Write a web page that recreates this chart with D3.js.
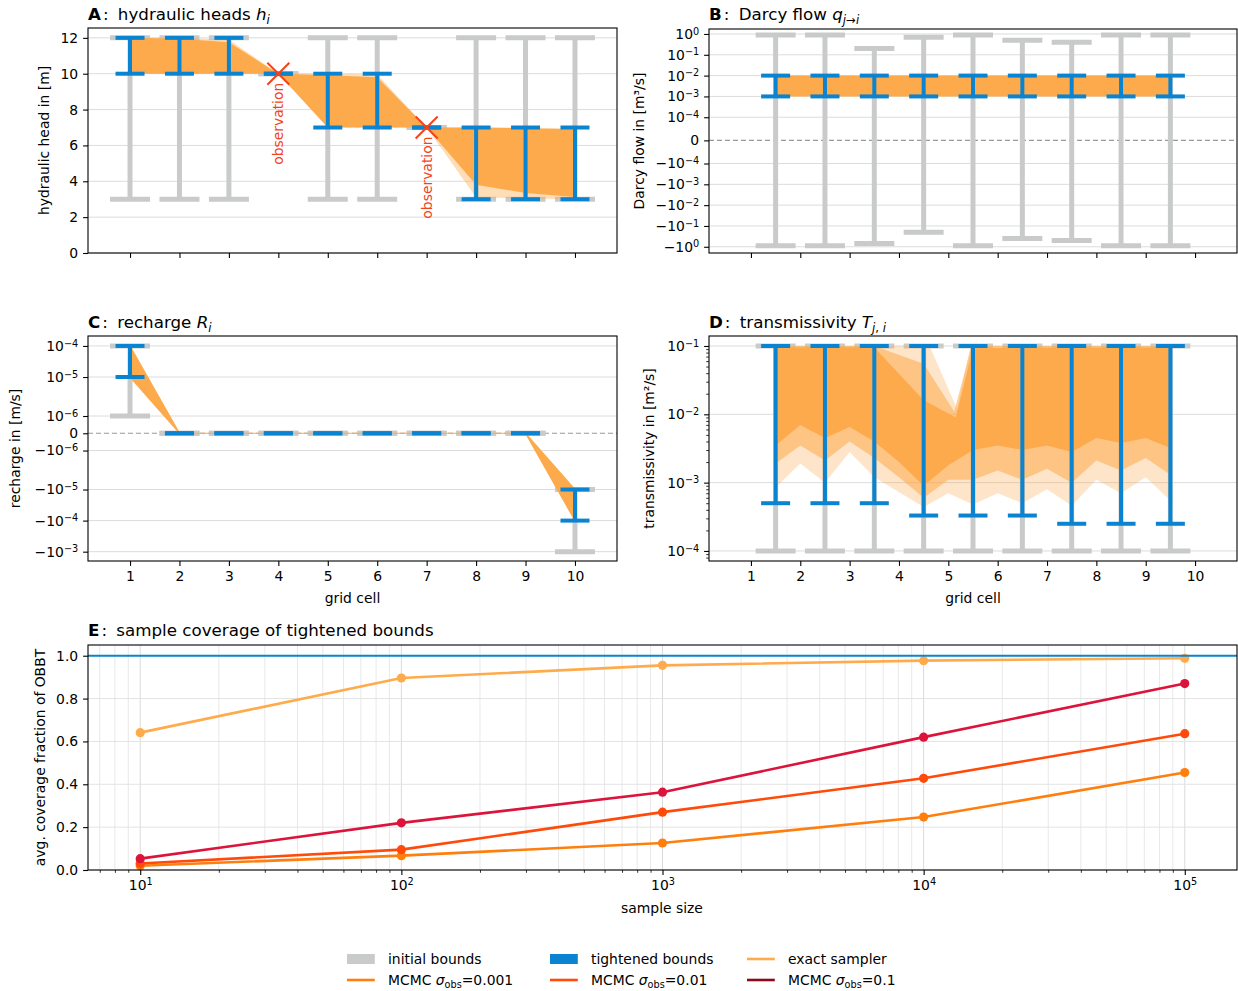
<!DOCTYPE html>
<html>
<head>
<meta charset="utf-8">
<script src="https://cdn.jsdelivr.net/npm/d3@7"></script>
<style>
  body { margin: 0; background: #fff; }
  svg { display: block; }
  text { white-space: pre; }
</style>
</head>
<body>
<svg id="fig" width="1238" height="991"></svg>
<script>
// ---- data ----
const cells = [1, 2, 3, 4, 5, 6, 7, 8, 9, 10];
const edges = [1.5, 2.5, 3.5, 4.5, 5.5, 6.5, 7.5, 8.5, 9.5];

// A: hydraulic heads [m]
const headInitLo  = [3, 3, 3, 10, 3, 3, 7, 3, 3, 3];
const headInitHi  = [12, 12, 12, 10, 12, 12, 7, 12, 12, 12];
const headTightLo = [10, 10, 10, 10, 7, 7, 7, 3, 3, 3];
const headTightHi = [12, 12, 12, 10, 10, 10, 7, 7, 7, 7];
const headSparseHi = [12, 12, 11.9, 10, 10, 9.95, 7, 7, 7, 6.95];
const headSparseLo = [10, 10, 10, 10, 7, 7, 7, 3.1, 3.05, 3.0];
const headDenseHi  = [12, 11.95, 11.75, 10, 9.92, 9.8, 7, 7, 6.95, 6.9];
const headDenseLo  = [10, 10, 10, 10, 7, 7, 7, 3.8, 3.35, 3.12];
const obsCells = [4, 7];
const obsHeads = [10, 7];
const headTicks = [0, 2, 4, 6, 8, 10, 12];

// B: Darcy flow [m3/s]
const flowInitLo  = [-0.9, -0.9, -0.7, -0.2, -0.9, -0.4, -0.5, -0.9, -0.9];
const flowInitHi  = [0.9, 0.9, 0.2, 0.7, 0.9, 0.5, 0.4, 0.9, 0.9];
const flowTightLo = [1e-3, 1e-3, 1e-3, 1e-3, 1e-3, 1e-3, 1e-3, 1e-3, 1e-3];
const flowTightHi = [1e-2, 1e-2, 1e-2, 1e-2, 1e-2, 1e-2, 1e-2, 1e-2, 1e-2];
const flowSampleLo = [1e-3, 1e-3, 1e-3, 1e-3, 1e-3, 1e-3, 1e-3, 1e-3, 1e-3];
const flowSampleHi = [1e-2, 1e-2, 1e-2, 1e-2, 1e-2, 1e-2, 1e-2, 1e-2, 1e-2];
const flowTicks = [1, 1e-1, 1e-2, 1e-3, 1e-4, 0, -1e-4, -1e-3, -1e-2, -1e-1, -1];

// C: recharge [m/s]
const rechInitLo  = [1e-6, 0, 0, 0, 0, 0, 0, 0, 0, -1e-3];
const rechInitHi  = [1e-4, 0, 0, 0, 0, 0, 0, 0, 0, -1e-5];
const rechTightLo = [1e-5, 0, 0, 0, 0, 0, 0, 0, 0, -1e-4];
const rechTightHi = [1e-4, 0, 0, 0, 0, 0, 0, 0, 0, -1e-5];
const rechSampleLo = [1e-5, 0, 0, 0, 0, 0, 0, 0, 0, -1e-4];
const rechSampleHi = [1e-4, 0, 0, 0, 0, 0, 0, 0, 0, -1e-5];
const rechTicks = [1e-4, 1e-5, 1e-6, 0, -1e-6, -1e-5, -1e-4, -1e-3];

// D: transmissivity [m2/s]
const transInitLo  = [1e-4, 1e-4, 1e-4, 1e-4, 1e-4, 1e-4, 1e-4, 1e-4, 1e-4];
const transInitHi  = [0.1, 0.1, 0.1, 0.1, 0.1, 0.1, 0.1, 0.1, 0.1];
const transTightLo = [5e-4, 5e-4, 5e-4, 3.3e-4, 3.3e-4, 3.3e-4, 2.5e-4, 2.5e-4, 2.5e-4];
const transTightHi = [0.1, 0.1, 0.1, 0.1, 0.1, 0.1, 0.1, 0.1, 0.1];
// sample cloud outlines as [position, value]: faint, medium and dense parts
const transSparseTop = [[1.5, 0.1], [2.5, 0.1], [3.5, 0.1], [4.5, 0.1], [4.62, 0.1], [5.18, 0.012], [5.45, 0.1], [6.5, 0.1], [7.5, 0.1], [8.5, 0.1], [9.5, 0.1]];
const transSparseBot = [[1.5, 0.00085], [2.0, 0.0019], [2.5, 0.001], [3.0, 0.0028], [3.5, 0.0012], [4.5, 0.00044], [5.0, 0.0007], [5.5, 0.00048], [6.0, 0.0007], [6.5, 0.0005], [7.0, 0.0008], [7.5, 0.00046], [8.0, 0.0011], [8.5, 0.0007], [9.0, 0.0012], [9.5, 0.00055]];
const transMidTop = [[1.5, 0.1], [2.5, 0.1], [3.5, 0.1], [4.5, 0.055], [5.12, 0.011], [5.47, 0.1], [6.5, 0.1], [7.5, 0.1], [8.5, 0.1], [9.5, 0.1]];
const transMidBot = [[1.5, 0.0019], [2.0, 0.0035], [2.5, 0.0021], [3.0, 0.004], [3.5, 0.0023], [4.0, 0.0012], [4.5, 0.0006], [5.0, 0.0011], [5.5, 0.0011], [6.0, 0.0015], [6.5, 0.0011], [7.0, 0.0016], [7.5, 0.001], [8.0, 0.0021], [8.5, 0.0015], [9.0, 0.0023], [9.5, 0.0013]];
const transDenseTop = [[1.5, 0.095], [2.5, 0.097], [3.5, 0.095], [4.5, 0.016], [5.15, 0.009], [5.5, 0.093], [6.5, 0.094], [7.5, 0.095], [8.5, 0.095], [9.5, 0.095]];
const transDenseBot = [[1.5, 0.0035], [2.0, 0.007], [2.5, 0.0045], [3.0, 0.0065], [3.5, 0.004], [4.0, 0.002], [4.5, 0.0009], [5.0, 0.0018], [5.5, 0.003], [6.0, 0.0035], [6.5, 0.003], [7.0, 0.0035], [7.5, 0.0028], [8.0, 0.0045], [8.5, 0.0038], [9.0, 0.0045], [9.5, 0.0032]];
const transTicks = [1e-4, 1e-3, 1e-2, 1e-1];

// E: coverage
const sampleSizes = [10, 100, 1000, 10000, 100000];
const covExact   = [0.641, 0.896, 0.955, 0.977, 0.988];
const covMcmc001 = [0.02, 0.067, 0.126, 0.247, 0.455];
const covMcmc01  = [0.03, 0.095, 0.27, 0.428, 0.636];
const covMcmc1   = [0.053, 0.22, 0.363, 0.62, 0.87];
const sizeTicks = [10, 100, 1000, 10000, 100000];
const covTicks = [0, 0.2, 0.4, 0.6, 0.8, 1.0];

// ---- style ----
const FONT = '"DejaVu Sans", sans-serif';
const FS = 13.9;
const gray = '#c9cbca', blue = '#0a84d1', orange = '#fcaa4b', red = '#f4431c';
const cExact = '#ffab4c', c001 = '#ff7f0e', c01 = '#ff4a0a', c1 = '#dc143c', c1legend = '#8b0a1e';

const svg = d3.select('#fig');
svg.append('rect').attr('width', 1238).attr('height', 991).attr('fill', '#fff');

const pA = {x0: 88, x1: 617, y0: 28, y1: 253};
const pB = {x0: 709, x1: 1237, y0: 29, y1: 253};
const pC = {x0: 88, x1: 617, y0: 336, y1: 561};
const pD = {x0: 709, x1: 1237, y0: 336, y1: 561};
const pE = {x0: 88, x1: 1237, y0: 645, y1: 870};

// matplotlib style symlog (base 10, linscale 1) on top of a d3 linear scale
function symlogScale(linthresh, tdom, range) {
  const adj = 1 / (1 - 1 / 10);
  const T = v => Math.abs(v) <= linthresh ? v / linthresh * adj
    : Math.sign(v) * (adj + Math.log10(Math.abs(v) / linthresh));
  const lin = d3.scaleLinear().domain(tdom).range(range);
  const s = v => lin(T(v));
  s.range = () => lin.range();
  s.copy = () => s;
  return s;
}

const powFmt = v => v === 0 ? '0'
  : (v < 0 ? '−' : '') + '10^' + String(Math.round(Math.log10(Math.abs(v)))).replace('-', '−');

function supText(sel) {
  sel.each(function () {
    const t = d3.select(this), s = t.text();
    if (s.indexOf('^') < 0) return;
    const [b, e] = s.split('^');
    t.text(null);
    t.append('tspan').text(b);
    t.append('tspan').attr('dy', '-0.45em').attr('font-size', FS * 0.7).text(e);
  });
}

function styleAxis(g) {
  g.select('.domain').remove();
  g.attr('font-family', FONT).attr('font-size', FS);
  g.selectAll('.tick line').attr('stroke', '#000').attr('stroke-width', 1.1);
  g.selectAll('.tick text').attr('fill', '#000');
  supText(g.selectAll('.tick text'));
}

function frame(p) {
  svg.append('rect').attr('x', p.x0).attr('y', p.y0)
    .attr('width', p.x1 - p.x0).attr('height', p.y1 - p.y0)
    .attr('fill', 'none').attr('stroke', '#000').attr('stroke-width', 1.1);
}

function hgrid(p, y, vals, col) {
  svg.append('g').selectAll('line').data(vals).join('line')
    .attr('x1', p.x0).attr('x2', p.x1)
    .attr('y1', d => y(d)).attr('y2', d => y(d))
    .attr('stroke', col || '#dcdcdc').attr('stroke-width', 1);
}

function zeroLine(p, y) {
  svg.append('line').attr('x1', p.x0).attr('x2', p.x1)
    .attr('y1', y(0)).attr('y2', y(0))
    .attr('stroke', '#999').attr('stroke-width', 1.2).attr('stroke-dasharray', '5,3');
}

function bars(xs, lo, hi, x, y, col, lw, cw, ct) {
  const g = svg.append('g');
  g.selectAll('line.v').data(xs).join('line').attr('class', 'v')
    .attr('x1', d => x(d)).attr('x2', d => x(d))
    .attr('y1', (d, i) => y(lo[i])).attr('y2', (d, i) => y(hi[i]))
    .attr('stroke', col).attr('stroke-width', lw);
  const caps = xs.flatMap((d, i) => [[d, lo[i]], [d, hi[i]]]);
  g.selectAll('line.c').data(caps).join('line').attr('class', 'c')
    .attr('x1', d => x(d[0]) - cw / 2).attr('x2', d => x(d[0]) + cw / 2)
    .attr('y1', d => y(d[1])).attr('y2', d => y(d[1]))
    .attr('stroke', col).attr('stroke-width', ct);
}
const grayBars = (xs, lo, hi, x, y) => bars(xs, lo, hi, x, y, gray, 5, 40, 5);
const blueBars = (xs, lo, hi, x, y) => bars(xs, lo, hi, x, y, blue, 4, 29, 4);

function rich(x, y, parts, size) {
  const t = svg.append('text').attr('x', x).attr('y', y)
    .attr('font-family', FONT).attr('font-size', size).attr('fill', '#000');
  parts.forEach(p => {
    const s = t.append('tspan').text(p.t);
    if (p.b) s.attr('font-weight', 'bold');
    if (p.i) s.attr('font-style', 'italic');
    if (p.dx) s.attr('dx', p.dx);
    if (p.dy) s.attr('dy', p.dy);
    if (p.fs) s.attr('font-size', p.fs);
  });
  return t;
}

function ylabel(x, cy, txt) {
  svg.append('text').attr('transform', `translate(${x},${cy}) rotate(-90)`)
    .attr('text-anchor', 'middle').attr('font-family', FONT).attr('font-size', FS)
    .text(txt);
}
function xlabel(cx, y, txt) {
  svg.append('text').attr('x', cx).attr('y', y).attr('text-anchor', 'middle')
    .attr('font-family', FONT).attr('font-size', FS).text(txt);
}

const TS = 16.7, SUB = 11.7;

// ================= A =================
const xA = d3.scaleLinear().domain([0.15, 10.85]).range([pA.x0, pA.x1]);
const yA = d3.scaleLinear().domain([0, 12.55]).range([pA.y1, pA.y0]);
hgrid(pA, yA, headTicks);
grayBars(cells, headInitLo, headInitHi, xA, yA);
const idx10 = d3.range(10);
svg.append('path').datum(idx10)
  .attr('d', d3.area().x(i => xA(cells[i])).y0(i => yA(headSparseLo[i])).y1(i => yA(headSparseHi[i])))
  .attr('fill', orange).attr('opacity', 0.4);
svg.append('path').datum(idx10)
  .attr('d', d3.area().x(i => xA(cells[i])).y0(i => yA(headDenseLo[i])).y1(i => yA(headDenseHi[i])))
  .attr('fill', orange);
blueBars(cells, headTightLo, headTightHi, xA, yA);
obsCells.forEach((c, i) => {
  svg.append('path').attr('d', 'M-11,-11L11,11M-11,11L11,-11')
    .attr('transform', `translate(${xA(c)},${yA(obsHeads[i])})`)
    .attr('stroke', red).attr('stroke-width', 2).attr('fill', 'none');
  svg.append('text').attr('transform', `translate(${xA(c) + 5},${yA(obsHeads[i]) + 9}) rotate(-90)`)
    .attr('text-anchor', 'end').attr('font-family', FONT).attr('font-size', FS)
    .attr('fill', red).text('observation');
});
svg.append('g').attr('transform', `translate(${pA.x0},0)`)
  .call(d3.axisLeft(yA).tickValues(headTicks).tickFormat(d3.format('d')).tickSize(4.9).tickPadding(4.9))
  .call(styleAxis);
svg.append('g').attr('transform', `translate(0,${pA.y1})`)
  .call(d3.axisBottom(xA).tickValues(cells).tickFormat('').tickSize(4.9))
  .call(styleAxis);
frame(pA);
ylabel(49, (pA.y0 + pA.y1) / 2, 'hydraulic head in [m]');
rich(pA.x0, 20, [{t: 'A', b: 1}, {t: ':', dx: 2}, {t: ' hydraulic heads ', dx: 4}, {t: 'h', i: 1}, {t: 'i', i: 1, fs: SUB, dy: 4}], TS);

// ================= B =================
const xB = d3.scaleLinear().domain([0.15, 10.85]).range([pB.x0, pB.x1]);
const yB = symlogScale(1e-4, [-5.41, 5.35], [pB.y1, pB.y0]);
hgrid(pB, yB, flowTicks.filter(d => d !== 0));
zeroLine(pB, yB);
grayBars(edges, flowInitLo, flowInitHi, xB, yB);
svg.append('path').datum(d3.range(9))
  .attr('d', d3.area().x(i => xB(edges[i])).y0(i => yB(flowSampleLo[i])).y1(i => yB(flowSampleHi[i])))
  .attr('fill', orange);
blueBars(edges, flowTightLo, flowTightHi, xB, yB);
svg.append('g').attr('transform', `translate(${pB.x0},0)`)
  .call(d3.axisLeft(yB).tickValues(flowTicks).tickFormat(powFmt).tickSize(4.9).tickPadding(4.9))
  .call(styleAxis);
svg.append('g').attr('transform', `translate(0,${pB.y1})`)
  .call(d3.axisBottom(xB).tickValues(cells).tickFormat('').tickSize(4.9))
  .call(styleAxis);
frame(pB);
ylabel(644, (pB.y0 + pB.y1) / 2, 'Darcy flow in [m³/s]');
rich(pB.x0, 20, [{t: 'B', b: 1}, {t: ':', dx: 2}, {t: ' Darcy flow ', dx: 4}, {t: 'q', i: 1},
  {t: 'j', i: 1, fs: SUB, dy: 4}, {t: '→', fs: SUB}, {t: 'i', i: 1, fs: SUB}], TS);

// ================= C =================
const xC = d3.scaleLinear().domain([0.15, 10.85]).range([pC.x0, pC.x1]);
const yC = symlogScale(2e-6, [-4.11, 3.13], [pC.y1, pC.y0]);
hgrid(pC, yC, rechTicks.filter(d => d !== 0));
zeroLine(pC, yC);
grayBars(cells, rechInitLo, rechInitHi, xC, yC);
svg.append('path').datum(idx10)
  .attr('d', d3.area().x(i => xC(cells[i])).y0(i => yC(rechSampleLo[i])).y1(i => yC(rechSampleHi[i])))
  .attr('fill', orange).attr('stroke', orange).attr('stroke-width', 1.2);
blueBars(cells, rechTightLo, rechTightHi, xC, yC);
svg.append('g').attr('transform', `translate(${pC.x0},0)`)
  .call(d3.axisLeft(yC).tickValues(rechTicks).tickFormat(powFmt).tickSize(4.9).tickPadding(4.9))
  .call(styleAxis);
svg.append('g').attr('transform', `translate(0,${pC.y1})`)
  .call(d3.axisBottom(xC).tickValues(cells).tickFormat(d3.format('d')).tickSize(4.9).tickPadding(4.9))
  .call(styleAxis);
frame(pC);
ylabel(20, (pC.y0 + pC.y1) / 2, 'recharge in [m/s]');
xlabel((pC.x0 + pC.x1) / 2, 603, 'grid cell');
rich(pC.x0, 328, [{t: 'C', b: 1}, {t: ':', dx: 2}, {t: ' recharge ', dx: 4}, {t: 'R', i: 1}, {t: 'i', i: 1, fs: SUB, dy: 4}], TS);

// ================= D =================
const xD = d3.scaleLinear().domain([0.15, 10.85]).range([pD.x0, pD.x1]);
const yD = d3.scaleLog().domain([7.13e-5, 0.14]).range([pD.y1, pD.y0]);
hgrid(pD, yD, transTicks);
grayBars(edges, transInitLo, transInitHi, xD, yD);
const polyD = d3.line().x(d => xD(d[0])).y(d => yD(d[1]));
[[transSparseTop, transSparseBot, 0.3], [transMidTop, transMidBot, 0.55], [transDenseTop, transDenseBot, 1]]
  .forEach(([top, bot, op]) => {
    svg.append('path').attr('d', polyD(top.concat(bot.slice().reverse())) + 'Z')
      .attr('fill', orange).attr('opacity', op);
  });
blueBars(edges, transTightLo, transTightHi, xD, yD);
svg.append('g').attr('transform', `translate(${pD.x0},0)`)
  .call(d3.axisLeft(yD).tickValues(transTicks).tickFormat(powFmt).tickSize(4.9).tickPadding(4.9))
  .call(styleAxis);
const minorD = yD.ticks().filter(v => Math.abs(Math.log10(v) - Math.round(Math.log10(v))) > 1e-6);
svg.append('g').attr('transform', `translate(${pD.x0},0)`)
  .call(d3.axisLeft(yD).tickValues(minorD).tickFormat('').tickSize(2.8))
  .call(g => { g.select('.domain').remove(); g.selectAll('line').attr('stroke', '#000').attr('stroke-width', 0.8); });
svg.append('g').attr('transform', `translate(0,${pD.y1})`)
  .call(d3.axisBottom(xD).tickValues(cells).tickFormat(d3.format('d')).tickSize(4.9).tickPadding(4.9))
  .call(styleAxis);
frame(pD);
ylabel(654, (pD.y0 + pD.y1) / 2, 'transmissivity in [m²/s]');
xlabel(973, 603, 'grid cell');
rich(pD.x0, 328, [{t: 'D', b: 1}, {t: ':', dx: 2}, {t: ' transmissivity ', dx: 4}, {t: 'T', i: 1},
  {t: 'j', i: 1, fs: SUB, dy: 4}, {t: ', ', fs: SUB}, {t: 'i', i: 1, fs: SUB}], TS);

// ================= E =================
const xE = d3.scaleLog().domain([Math.pow(10, 0.8), Math.pow(10, 5.2)]).range([pE.x0, pE.x1]);
const yE = d3.scaleLinear().domain([0, 1.05]).range([pE.y1, pE.y0]);
const allE = xE.ticks();
const minorE = allE.filter(v => Math.abs(Math.log10(v) - Math.round(Math.log10(v))) > 1e-6);
svg.append('g').selectAll('line').data(allE).join('line')
  .attr('x1', d => xE(d)).attr('x2', d => xE(d)).attr('y1', pE.y0).attr('y2', pE.y1)
  .attr('stroke', d => sizeTicks.includes(d) ? '#dadada' : '#e8e8e8').attr('stroke-width', 1);
hgrid(pE, yE, covTicks, '#e3e3e3');
const seriesE = [
  {v: covExact, c: cExact},
  {v: covMcmc001, c: c001},
  {v: covMcmc01, c: c01},
  {v: covMcmc1, c: c1}
];
const lineE = d3.line().x((d, i) => xE(sampleSizes[i])).y(d => yE(d));
seriesE.forEach(s => {
  svg.append('path').datum(s.v).attr('d', lineE)
    .attr('fill', 'none').attr('stroke', s.c).attr('stroke-width', 2.6);
  svg.append('g').selectAll('circle').data(s.v).join('circle')
    .attr('cx', (d, i) => xE(sampleSizes[i])).attr('cy', d => yE(d)).attr('r', 4.6)
    .attr('fill', s.c);
});
svg.append('line').attr('x1', pE.x0).attr('x2', pE.x1).attr('y1', yE(1)).attr('y2', yE(1))
  .attr('stroke', blue).attr('stroke-width', 2);
svg.append('g').attr('transform', `translate(${pE.x0},0)`)
  .call(d3.axisLeft(yE).tickValues(covTicks).tickFormat(d3.format('.1f')).tickSize(4.9).tickPadding(4.9))
  .call(styleAxis);
svg.append('g').attr('transform', `translate(0,${pE.y1})`)
  .call(d3.axisBottom(xE).tickValues(sizeTicks).tickFormat(powFmt).tickSize(4.9).tickPadding(4.9))
  .call(styleAxis);
svg.append('g').attr('transform', `translate(0,${pE.y1})`)
  .call(d3.axisBottom(xE).tickValues(minorE).tickFormat('').tickSize(2.8))
  .call(g => { g.select('.domain').remove(); g.selectAll('line').attr('stroke', '#000').attr('stroke-width', 0.8); });
frame(pE);
ylabel(45, (pE.y0 + pE.y1) / 2, 'avg. coverage fraction of OBBT');
xlabel(662, 913, 'sample size');
rich(pE.x0, 636, [{t: 'E', b: 1}, {t: ':', dx: 2}, {t: ' sample coverage of tightened bounds', dx: 4}], TS);

// ================= legend =================
const legendItems = [
  {kind: 'patch', c: gray, col: 0, row: 0, parts: [{t: 'initial bounds'}]},
  {kind: 'patch', c: blue, col: 1, row: 0, parts: [{t: 'tightened bounds'}]},
  {kind: 'line', c: cExact, col: 2, row: 0, parts: [{t: 'exact sampler'}]},
  {kind: 'line', c: c001, col: 0, row: 1, parts: [{t: 'MCMC '}, {t: 'σ', i: 1}, {t: 'obs', fs: 9.7, dy: 3}, {t: '=0.001', dy: -3}]},
  {kind: 'line', c: c01, col: 1, row: 1, parts: [{t: 'MCMC '}, {t: 'σ', i: 1}, {t: 'obs', fs: 9.7, dy: 3}, {t: '=0.01', dy: -3}]},
  {kind: 'line', c: c1legend, col: 2, row: 1, parts: [{t: 'MCMC '}, {t: 'σ', i: 1}, {t: 'obs', fs: 9.7, dy: 3}, {t: '=0.1', dy: -3}]}
];
const legColX = [347, 550, 747], legRowY = [959, 980];
legendItems.forEach(it => {
  const x = legColX[it.col], y = legRowY[it.row];
  if (it.kind === 'patch') {
    svg.append('rect').attr('x', x).attr('y', y - 5).attr('width', 27.8).attr('height', 10).attr('fill', it.c);
  } else {
    svg.append('line').attr('x1', x).attr('x2', x + 27.8).attr('y1', y).attr('y2', y)
      .attr('stroke', it.c).attr('stroke-width', 2.6);
  }
  rich(x + 41, y + 5, it.parts, FS);
});
</script>
</body>
</html>
